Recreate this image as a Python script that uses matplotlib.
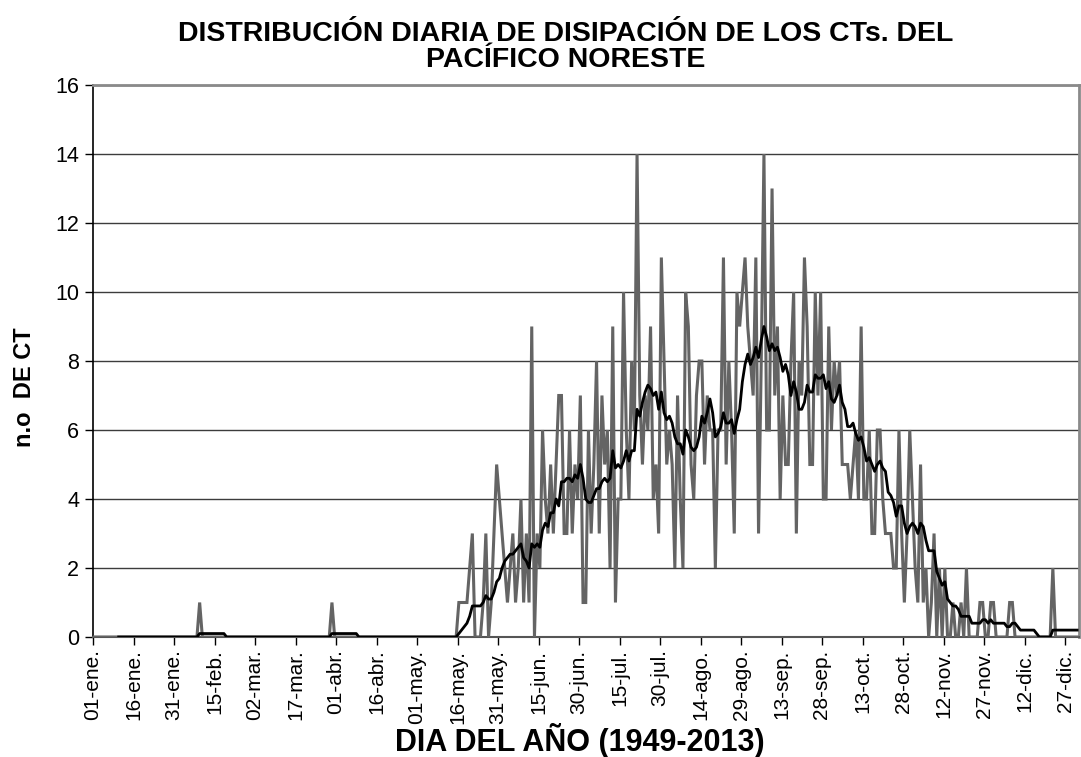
import matplotlib
matplotlib.use("Agg")
import matplotlib.pyplot as plt
import numpy as np
import pandas as pd

# Category tick labels (every 15 days)
tick_labels = ["01-ene.", "16-ene.", "31-ene.", "15-feb.", "02-mar.", "17-mar.",
               "01-abr.", "16-abr.", "01-may.", "16-may.", "31-may.", "15-jun.",
               "30-jun.", "15-jul.", "30-jul.", "14-ago.", "29-ago.", "13-sep.",
               "28-sep.", "13-oct.", "28-oct.", "12-nov.", "27-nov.", "12-dic.",
               "27-dic."]

# Daily number of dissipating TCs (one row = 15 days)
counts = [
    0, 0, 0, 0, 0, 0, 0, 0, 0, 0, 0, 0, 0, 0, 0,        # 01-ene
    0, 0, 0, 0, 0, 0, 0, 0, 0, 0, 0, 0, 0, 0, 0,        # 16-ene
    0, 0, 0, 0, 0, 0, 0, 0, 0, 1, 0, 0, 0, 0, 0,        # 31-ene
    0, 0, 0, 0, 0, 0, 0, 0, 0, 0, 0, 0, 0, 0, 0,        # 15-feb
    0, 0, 0, 0, 0, 0, 0, 0, 0, 0, 0, 0, 0, 0, 0,        # 02-mar
    0, 0, 0, 0, 0, 0, 0, 0, 0, 0, 0, 0, 0, 1, 0,        # 17-mar
    0, 0, 0, 0, 0, 0, 0, 0, 0, 0, 0, 0, 0, 0, 0,        # 01-abr
    0, 0, 0, 0, 0, 0, 0, 0, 0, 0, 0, 0, 0, 0, 0,        # 16-abr
    0, 0, 0, 0, 0, 0, 0, 0, 0, 0, 0, 0, 0, 0, 0,        # 01-may
    1, 1, 1, 1, 2, 3, 0, 0, 0, 1, 3, 0, 1, 3, 5,        # 16-may
    4, 3, 2, 1, 2, 3, 1, 2, 4, 1, 3, 1, 9, 0, 3,        # 31-may
    2, 6, 4, 3, 5, 3, 5, 7, 7, 3, 3, 6, 3, 5, 4,        # 15-jun
    7, 1, 1, 6, 3, 5, 8, 3, 7, 5, 6, 2, 9, 1, 4,        # 30-jun
    4, 10, 6, 4, 8, 6, 14, 7, 5, 7, 6, 9, 4, 5, 3,      # 15-jul
    11, 8, 5, 6, 5, 2, 7, 4, 2, 10, 9, 5, 4, 7, 8,      # 30-jul
    8, 5, 7, 6, 6, 2, 6, 6, 11, 5, 8, 6, 3, 10, 9,      # 14-ago
    10, 11, 9, 8, 7, 11, 3, 8, 14, 6, 6, 13, 7, 9, 4,   # 29-ago
    7, 5, 5, 8, 10, 3, 8, 7, 11, 9, 5, 5, 10, 7, 10,    # 13-sep
    4, 4, 9, 6, 8, 7, 8, 5, 5, 5, 4, 5, 6, 4, 9,        # 28-sep
    4, 4, 6, 3, 3, 6, 6, 4, 3, 3, 3, 2, 2, 6, 3,        # 13-oct
    1, 3, 6, 4, 2, 1, 5, 1, 2, 0, 1, 3, 0, 2, 0,        # 28-oct
    2, 0, 0, 1, 0, 0, 1, 0, 2, 0, 0, 0, 0, 1, 1,        # 12-nov
    0, 0, 1, 1, 0, 0, 0, 0, 0, 1, 1, 0, 0, 0, 0,        # 27-nov
    0, 0, 0, 0, 0, 0, 0, 0, 0, 0, 2, 0, 0, 0, 0,        # 12-dic
    0, 0, 0, 0, 0,                                      # 27-dic
]
ma_period = 10
tick_step = 15

plt.rcParams['font.family'] = ['Liberation Sans', 'DejaVu Sans']

W, H = 1081, 757
fig = plt.figure(figsize=(W / 100, H / 100), dpi=100)
L, R, T, B = 93, 1078.5, 85, 637
ax = fig.add_axes([L / W, 1 - B / H, (R - L) / W, (B - T) / H])

n = len(counts)
xpos = np.arange(n) + 0.5
ma = pd.Series(counts, dtype=float).rolling(ma_period).mean()

ax.plot(xpos, counts, color='#646464', lw=2.2, solid_joinstyle='miter', zorder=3)
ax.plot(xpos, ma, color='black', lw=2.0, zorder=4)

ax.set_xlim(0, n)
ax.set_ylim(0, 16)
ax.set_yticks(np.arange(0, 17, 2))
ax.set_yticklabels([str(v) for v in range(0, 17, 2)], fontsize=15.5)
ticks = np.arange(0, n, tick_step)
ax.set_xticks(ticks)
ax.set_xticklabels(tick_labels, rotation=90, fontsize=15)
ax.tick_params(axis='x', direction='out', length=6, width=1, color='black', pad=3)
ax.tick_params(axis='y', direction='out', length=6, width=1, color='black', pad=4)

ax.grid(axis='y', color='#3c3c3c', lw=1.0, zorder=1)
ax.set_axisbelow(True)
for s in ['top', 'right']:
    ax.spines[s].set_color('#8a8a8a')
    ax.spines[s].set_linewidth(2.0)
ax.spines['left'].set_color('black')
ax.spines['left'].set_linewidth(1.2)
ax.spines['bottom'].set_color('#555555')
ax.spines['bottom'].set_linewidth(1.5)

fig.text(566 / W, 1 - 21 / H,
         "DISTRIBUCIÓN DIARIA DE DISIPACIÓN DE LOS CTs. DEL\nPACÍFICO NORESTE",
         ha='center', va='top', fontsize=20.5, fontweight='bold', linespacing=1.0)
fig.text(25 / W, 1 - 387 / H, "n.o  DE CT", rotation=90, ha='center', va='center',
         fontsize=17, fontweight='bold')
fig.text(580 / W, 1 - 741 / H, "DIA DEL AÑO (1949-2013)", ha='center', va='center',
         fontsize=22, fontweight='bold')

fig.savefig("out.png", dpi=100)
